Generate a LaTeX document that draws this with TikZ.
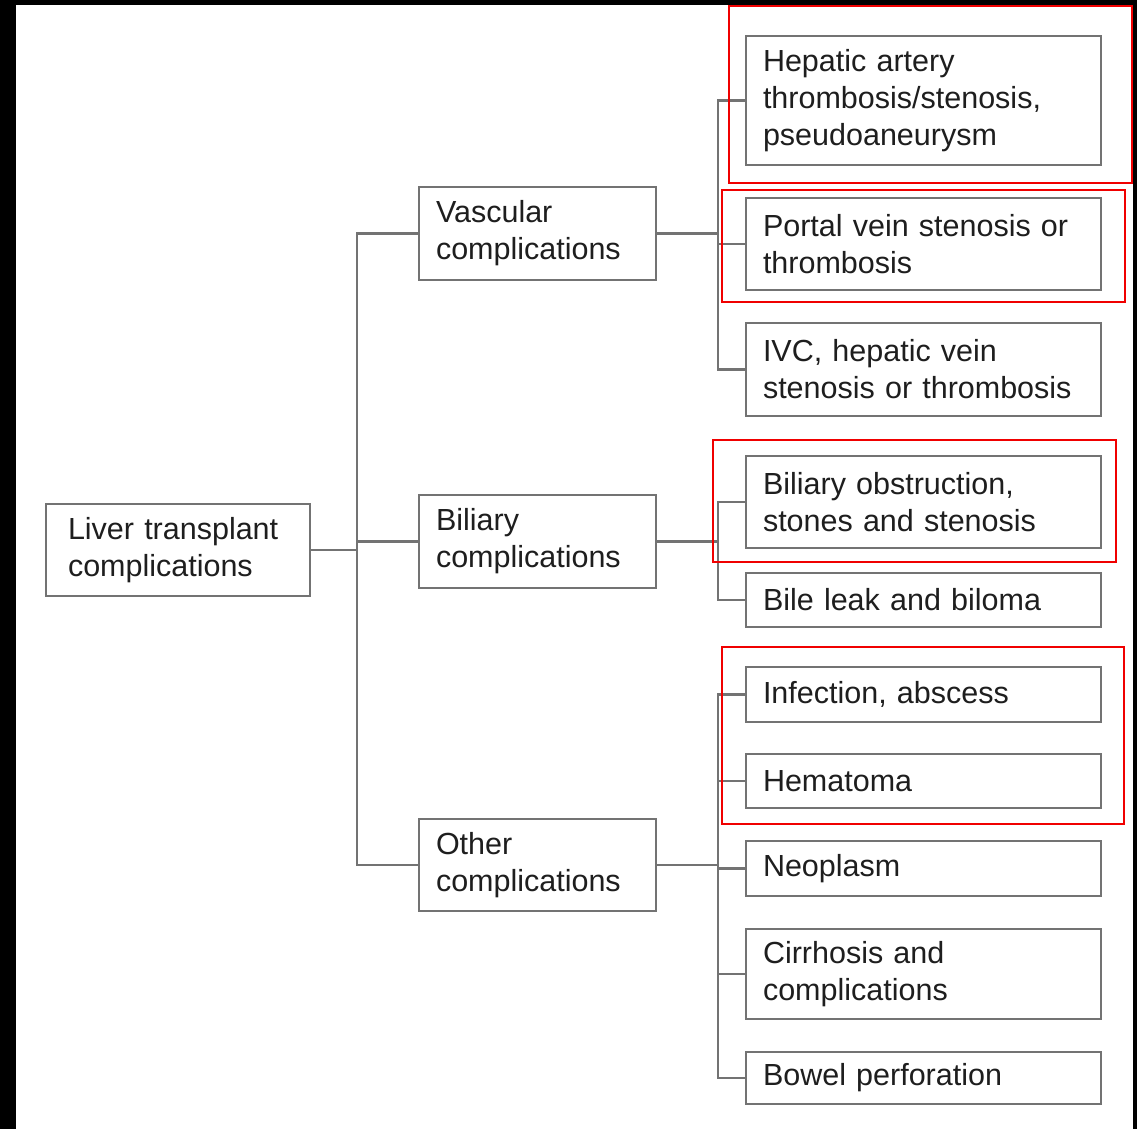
\documentclass[tikz,border=0pt]{standalone}
\usepackage{fontspec}
\setmainfont[WordSpace=0.55]{Liberation Sans}
\definecolor{linegray}{RGB}{115,115,115}
\definecolor{txt}{RGB}{30,30,30}
\definecolor{hl}{RGB}{240,0,0}
\tikzset{
  box/.style={draw=linegray, line width=2.6pt, fill=white, text=txt,
    align=left, inner xsep=17pt, inner ysep=0pt, anchor=center,
    font=\fontsize{30.5}{37}\selectfont},
  midbox/.style={box, minimum width=237pt, text width=203pt},
  rbox/.style={box, minimum width=355pt, text width=321pt},
  conn/.style={draw=linegray, line width=2.4pt},
  hlbox/.style={draw=hl, line width=2.4pt}
}
\begin{document}
\begin{tikzpicture}[x=1pt,y=-1pt]
\fill[black] (0,0) rectangle (1137,1129);
\fill[white] (16,5) rectangle (1133,1129);
\useasboundingbox (0,0) rectangle (1137,1129);

% nodes
\node[box, minimum width=264pt, text width=220pt, inner xsep=22pt, minimum height=92pt] (root) at (178,550) {Liver transplant\\complications};
\node[midbox, minimum height=93pt] (vasc) at (537.5,233.5) {Vascular\\complications};
\node[midbox, minimum height=93pt] (bil) at (537.5,541.5) {Biliary\\complications};
\node[midbox, minimum height=92pt] (oth) at (537.5,865) {Other\\complications};

\node[rbox, minimum height=129pt] (ha) at (923.5,100.5) {Hepatic artery\\thrombosis/stenosis,\\pseudoaneurysm};
\node[rbox, minimum height=92pt] (pv) at (923.5,244) {Portal vein stenosis or\\thrombosis};
\node[rbox, minimum height=93pt] (ivc) at (923.5,369.5) {IVC, hepatic vein\\stenosis or thrombosis};
\node[rbox, minimum height=92pt] (bo) at (923.5,502) {Biliary obstruction,\\stones and stenosis};
\node[rbox, minimum height=54pt] (bl) at (923.5,600) {Bile leak and biloma};
\node[rbox, minimum height=55pt] (inf) at (923.5,694.5) {Infection, abscess};
\node[rbox, minimum height=54pt] (hem) at (923.5,781) {Hematoma};
\node[rbox, minimum height=55pt] (neo) at (923.5,868.5) {Neoplasm};
\node[rbox, minimum height=90pt] (cir) at (923.5,974) {Cirrhosis and\\complications};
\node[rbox, minimum height=52pt] (bow) at (923.5,1078) {Bowel perforation};

% junction coordinates
\coordinate (j0) at (357,550);
\coordinate (j1) at (718,233.5);
\coordinate (j2) at (718,541.5);
\coordinate (j3) at (718,865);

% connectors
\draw[conn] (root.east) -- (j0);
\draw[conn] (vasc.west) -| (j0) |- (oth.west);
\draw[conn] (bil.west) -- (bil.west -| j0);

\draw[conn] (vasc.east) -- (j1);
\draw[conn] (ha.west) -| (j1) |- (ivc.west);
\draw[conn] (pv.west) -- (pv.west -| j1);

\draw[conn] (bil.east) -- (j2);
\draw[conn] (bo.west) -| (j2) |- (bl.west);

\draw[conn] (oth.east) -- (j3);
\draw[conn] (inf.west) -| (j3) |- (bow.west);
\draw[conn] (hem.west) -- (hem.west -| j3);
\draw[conn] (neo.west) -- (neo.west -| j3);
\draw[conn] (cir.west) -- (cir.west -| j3);

% red highlight frames
\draw[hlbox] (729,6) rectangle (1132,183);
\draw[hlbox] (722,190) rectangle (1125,302);
\draw[hlbox] (713,440) rectangle (1116,562);
\draw[hlbox] (722,647) rectangle (1124,824);
\end{tikzpicture}
\end{document}
